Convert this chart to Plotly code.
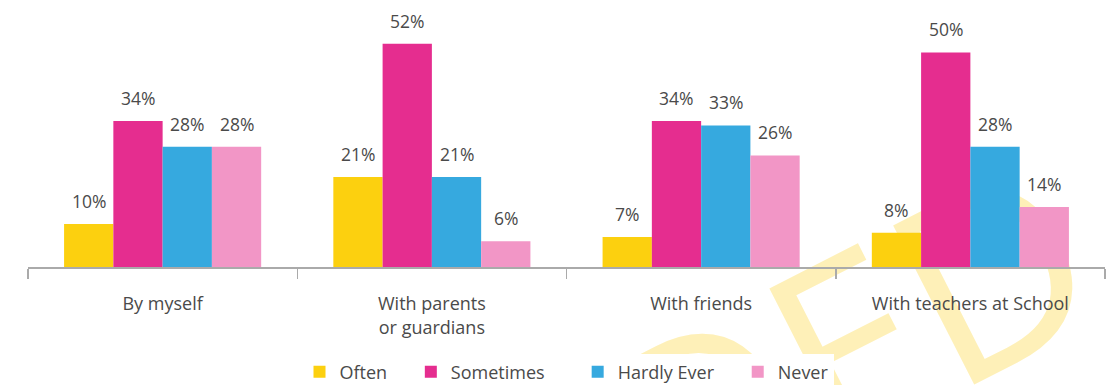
import plotly.graph_objects as go

categories = ["By myself", "With parents<br>or guardians", "With friends", "With teachers at School"]
series_names = ["Often", "Sometimes", "Hardly Ever", "Never"]
often = [10, 21, 7, 8]
sometimes = [34, 52, 34, 50]
hardly_ever = [28, 21, 33, 28]
never = [28, 6, 26, 14]
colors = ["#FCD00F", "#E52D8F", "#36A9DF", "#F296C6"]

values = [often, sometimes, hardly_ever, never]
FONT = "Open Sans"
TXT = "#4a4a4a"
BARGAP = 0.268
legend_labels = [series_names[0] + "\u00a0" * 4, series_names[1] + "\u00a0" * 6,
                 series_names[2] + "\u00a0" * 4, series_names[3]]

fig = go.Figure()
for name, lab, vals, col in zip(series_names, legend_labels, values, colors):
    fig.add_trace(go.Bar(name=lab, x=categories, y=vals, marker=dict(color=col, line=dict(width=0)),
                         hoverinfo="skip"))

w = (1 - BARGAP) / 4
for j, vals in enumerate(values):
    for i, v in enumerate(vals):
        fig.add_annotation(x=i + (j - 1.5) * w, y=v, xref="x", yref="y", text=f"{v}%",
                           showarrow=False, yshift=23, yanchor="middle",
                           font=dict(family=FONT, size=17.5, color=TXT))

# faint watermark behind the chart
fig.add_shape(type="rect", xref="paper", yref="paper", x0=0.33, x1=0.345, y0=-1.39, y1=-1.36,
              line=dict(width=0), fillcolor="rgba(0,0,0,0)", layer="below",
              label=dict(text="SUPERSEDED", textangle=-27, textposition="middle center",
                         font=dict(family=FONT, size=250, color="#FEF0B8")))

fig.update_layout(
    width=1120, height=385,
    margin=dict(l=28, r=15, t=31, b=118, autoexpand=False),
    barmode="group", bargap=BARGAP, bargroupgap=0,
    plot_bgcolor="white", paper_bgcolor="white",
    font=dict(family=FONT, size=18, color=TXT),
    showlegend=True,
    legend=dict(orientation="h", x=0.5, xanchor="center", y=-0.445, yanchor="middle",
                font=dict(family=FONT, size=18, color=TXT), traceorder="normal"),
    xaxis=dict(showline=True, linecolor="#aaaaaa", linewidth=1.5, ticks="outside", tickson="boundaries",
               ticklen=10, tickcolor="#aaaaaa", tickwidth=1.5, tickfont=dict(family=FONT, size=18, color=TXT),
               ticklabelstandoff=20, showgrid=False, automargin=False),
    yaxis=dict(range=[0, 55], visible=False, showgrid=False, automargin=False),
)

fig.write_html("out.html", config={"displayModeBar": False, "staticPlot": True},
               post_script="document.body.style.margin='0';document.body.style.overflow='hidden';")
